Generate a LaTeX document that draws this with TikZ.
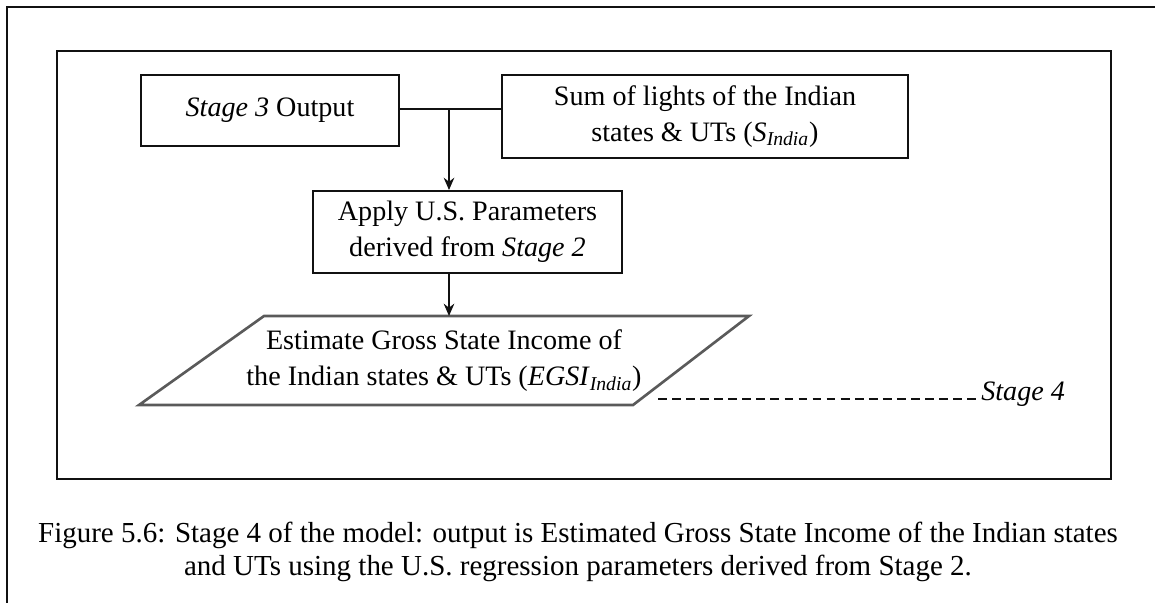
\documentclass[tikz,border=0pt]{standalone}
\usepackage{fontspec}
\setmainfont{Liberation Serif}
\usetikzlibrary{arrows.meta, positioning, calc}
\definecolor{CLine}{HTML}{111111}
\definecolor{CPara}{HTML}{5A5A5A}

\tikzset{
    stagebox/.style={draw=CLine, line width=1.1pt, align=center, inner sep=0pt,
        font=\fontsize{16}{20.5}\selectfont},
    flow/.style={->, >={Stealth[length=7pt, width=6pt]}, line width=1.1pt, CLine}
}

\begin{document}
\begin{tikzpicture}[x=0.02cm, y=-0.02cm]
    \useasboundingbox (0,0) rectangle (1155,603);

    % Outer frame (only top and left edges show)
    \draw[line width=1.2pt, CLine] (1155,7) -- (7,7) -- (7,603);
    % Inner frame
    \draw[line width=1.5pt, CLine] (57,51) rectangle (1111,479);

    % Input boxes
    \node[stagebox, minimum width=258*0.02cm, minimum height=71*0.02cm] (stage3) at (270,110.5) {\textit{Stage 3} Output};
    \node[stagebox, minimum width=406*0.02cm, minimum height=83*0.02cm] (sum) at (705,116.5)
        {Sum of lights of the Indian\\states \& UTs (\textit{S}\textsubscript{\textit{India}})};
    \coordinate (join) at (449,109);
    \draw[line width=1.1pt, CLine] (399,109) -- (join) -- (join -| sum.west);

    % Parameters box
    \node[stagebox, minimum width=309*0.02cm, minimum height=82*0.02cm] (apply) at (467.5,232)
        {Apply U.S. Parameters\\derived from \textit{Stage 2}};
    \draw[flow] (join) -- (join |- apply.north);

    % Output parallelogram
    \draw[line width=1.5pt, CPara] (264,316) -- (749,316) -- (633,405) -- (139,405) -- cycle;
    \coordinate (paratop) at (449,316);
    \node[align=center, font=\fontsize{16}{20.5}\selectfont] (estimate) at (444,361)
        {Estimate Gross State Income of\\the Indian states \& UTs (\textit{EGSI}\textsubscript{\textit{India}})};
    \draw[flow] (join |- apply.south) -- (paratop);

    % Stage label
    \node[font=\fontsize{16}{20}\selectfont\itshape, anchor=west, inner sep=0pt] (stage4) at (981,394) {Stage 4};
    \coordinate (dashstart) at (658,399);
    \draw[line width=0.9pt, CLine, dash pattern=on 5pt off 3pt] (dashstart) -- (dashstart -| stage4.west);

    % Caption
    \node[align=center, font=\fontsize{16.5}{19}\selectfont] (caption) at (578,552)
        {Figure 5.6: Stage 4 of the model: output is Estimated Gross State Income of the Indian states\\
         and UTs using the U.S. regression parameters derived from Stage 2.};
\end{tikzpicture}
\end{document}
